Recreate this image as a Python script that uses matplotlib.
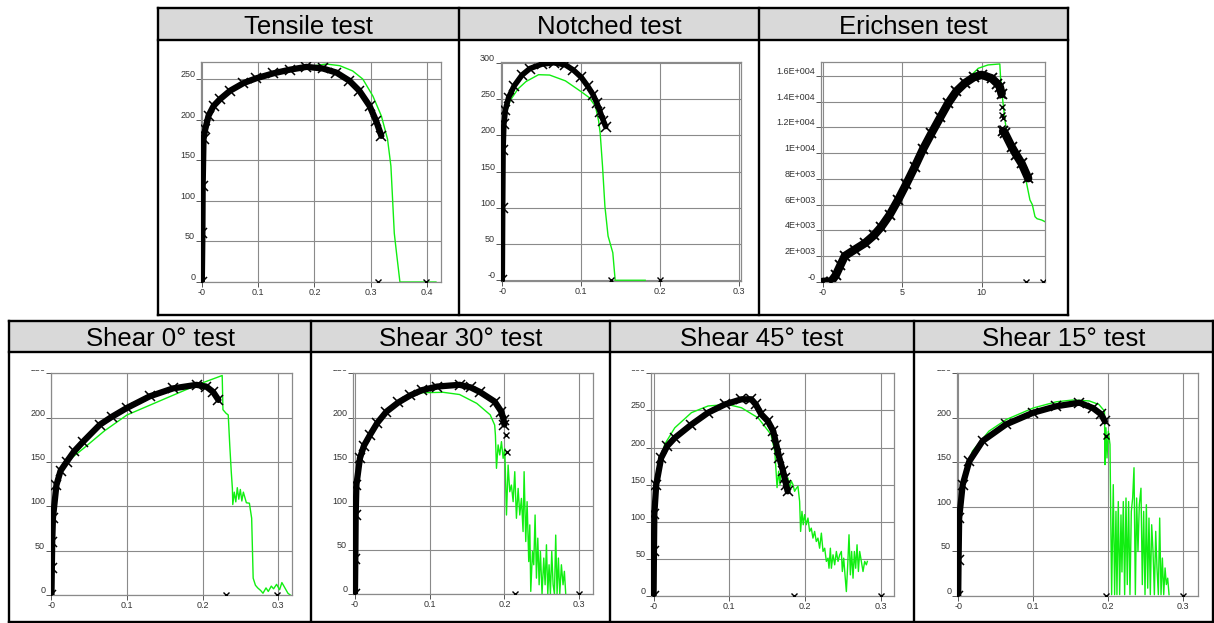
import matplotlib.pyplot as plt
from matplotlib.patches import Rectangle
from matplotlib.lines import Line2D
from matplotlib.transforms import Bbox, TransformedBbox

plt.rcParams['font.family'] = ['Liberation Sans', 'DejaVu Sans']

# ---- tensile ----
ten_x = [0, 0.001, 0.0015, 0.003, 0.006, 0.012, 0.021, 0.032, 0.05, 0.074, 0.097, 0.127,
         0.156, 0.186, 0.215, 0.239, 0.262, 0.28, 0.298, 0.31, 0.319]
ten_y = [0, 60, 118, 176, 188, 205, 217, 225, 235.5, 245, 251, 257,
         261.5, 265, 263, 258, 248, 235.5, 217, 198, 180]
ten_fail_x = [0.313, 0.398]
ten_fail_y = [0, 0]
ten_gx = [0, 0.001, 0.003, 0.012, 0.032, 0.074, 0.127, 0.186, 0.221, 0.245, 0.268, 0.286,
          0.304, 0.319, 0.33, 0.336, 0.339, 0.342, 0.346, 0.352, 0.416]
ten_gy = [0, 60, 176, 205, 225, 245, 257, 265, 268.5, 266.5, 260, 250,
          229, 204.6, 176, 142.7, 101.5, 60, 35.5, 0, 0]

# ---- notched ----
not_x = [0, 0.0005, 0.001, 0.002, 0.004, 0.008, 0.015, 0.025, 0.035, 0.05, 0.065, 0.08,
         0.09, 0.1, 0.108, 0.115, 0.12, 0.124, 0.128, 0.131]
not_y = [0, 100, 180, 215, 235, 252, 268, 283, 292, 298, 300, 297,
         290, 280, 268, 256, 244, 232, 220, 212]
not_fail_x = [0.138, 0.2]
not_fail_y = [0, 0]
not_gx = [0, 0.0005, 0.001, 0.004, 0.01, 0.02, 0.03, 0.046, 0.06, 0.08, 0.1, 0.11, 0.118,
          0.122, 0.124, 0.127, 0.13, 0.134, 0.14, 0.143, 0.181]
not_gy = [0, 100, 180, 228, 248, 264, 274, 283.5, 283, 275, 260, 252, 240,
          220, 203, 157, 102, 61, 38, 0, 0]

# ---- erichsen ----
eri_x = [0, 0.5, 0.8, 1.1, 1.37, 2.0, 2.63, 3.2, 3.68, 4.2, 4.73, 5.25, 5.79, 6.3, 6.84,
         7.4, 7.89, 8.4, 8.94, 9.5, 10.0, 10.63, 11.0, 11.15, 11.26]
eri_y = [0, 0, 500, 1300, 2000, 2500, 2990, 3600, 4280, 5200, 6360, 7600, 8950, 10300, 11550,
         12800, 13880, 14800, 15440, 15900, 16090, 15830, 15400, 15170, 14600]
eri_drop_x = [11.28, 11.3, 11.27, 11.32, 11.3]
eri_drop_y = [14530, 13620, 12970, 12710, 11930]
eri_tail_x = [11.35, 11.47, 11.89, 12.2, 12.52, 12.94]
eri_tail_y = [11700, 11550, 10510, 9850, 9210, 8050]
eri_fail_x = [12.83, 13.89]
eri_fail_y = [0, 0]
eri_gx = [-0.1, 0.5, 1.37, 2.63, 3.68, 4.73, 5.79, 6.84, 7.4, 7.89, 8.4, 8.94, 9.37, 9.79,
          10.4, 11.15, 11.2, 11.3, 11.47, 11.6, 11.89, 12.3, 12.73, 12.84, 13.05, 13.2,
          13.37, 13.5, 13.79, 14.0]
eri_gy = [0, 0, 2000, 2990, 4280, 6360, 8950, 11400, 12500, 13600, 14700, 15500, 16090, 16600,
          16860, 16940, 15800, 14500, 12580, 11600, 10770, 9700, 8170, 7650, 6360, 6000,
          5060, 4900, 4800, 4670]

# ---- shear 0 ----
s00_x = [0, 0.0005, 0.001, 0.002, 0.0066, 0.012, 0.02, 0.03, 0.042, 0.064, 0.08, 0.1,
         0.13, 0.161, 0.192, 0.205, 0.214, 0.221]
s00_y = [0, 30, 60, 87, 124, 140, 150, 162, 173, 192, 201, 211,
         224, 233, 237, 235, 229, 220]
s00_fail_x = [0.231, 0.298]
s00_fail_y = [0, 0]
s00_gx = [0, 0.0005, 0.001, 0.002, 0.0066, 0.02, 0.042, 0.07, 0.1, 0.152, 0.196, 0.226,
          0.227, 0.231, 0.234, 0.236, 0.238, 0.2395, 0.24, 0.242, 0.244, 0.246, 0.248, 0.25,
          0.252, 0.254, 0.256, 0.258, 0.262, 0.265, 0.267, 0.27, 0.273, 0.277, 0.28, 0.284,
          0.287, 0.291, 0.294, 0.298, 0.302, 0.305, 0.309, 0.313, 0.316]
s00_gy = [0, 10, 40, 87, 124, 150, 165, 185, 203, 222, 238, 247.5,
          209, 205, 203, 169, 139, 120, 102, 116, 105, 121, 108, 119,
          106, 116, 110, 104, 103.5, 86.6, 19, 11, 8, 5, 2, 8,
          4, 10, 7, 12, 6, 14, 8, 2, 0]

# ---- shear 30 ----
s30_x = [0, 0.0005, 0.001, 0.002, 0.0067, 0.012, 0.02, 0.03, 0.042, 0.058, 0.074, 0.09,
         0.11, 0.14, 0.155, 0.167, 0.187, 0.196, 0.199, 0.2]
s30_y = [0, 40, 90, 124, 154, 168, 180, 194, 206.5, 217, 225, 231,
         235, 237, 234, 229, 218, 206.5, 197, 192]
s30_fail_x = [0.202, 0.204, 0.214, 0.3]
s30_fail_y = [180, 161, 0, 0]
s30_gx = [0, 0.0005, 0.001, 0.002, 0.0067, 0.02, 0.042, 0.074, 0.09, 0.118, 0.14, 0.163,
          0.181, 0.187, 0.188, 0.1894, 0.1916, 0.1938, 0.1961, 0.1983, 0.2005, 0.2028,
          0.205, 0.2072, 0.2094, 0.2117, 0.2139, 0.2161, 0.2184, 0.2206, 0.2228, 0.225,
          0.2264, 0.2286, 0.2304, 0.2326, 0.234, 0.2353, 0.2376, 0.2393, 0.2411, 0.2429,
          0.2447, 0.2465, 0.2482, 0.2504, 0.2527, 0.2545, 0.2563, 0.2581, 0.2598, 0.2616,
          0.2634, 0.2652, 0.267, 0.2687, 0.2705, 0.2723, 0.2741, 0.2763, 0.2785, 0.2803,
          0.2821]
s30_gy = [0, 40, 90, 124, 154, 180, 206.5, 225, 228, 228.5, 226, 216,
          203, 191.5, 180, 142.5, 169, 157.6, 172.7, 153.8, 165, 89.7,
          146.2, 116, 123.6, 104.8, 138.7, 86, 119.8, 89.7, 108.5, 71,
          138.7, 59.7, 104.8, 37, 78.5, 3.3, 48.5, 33.4, 89.7, 18.3,
          63.5, 10.8, 48.5, 0.3, 41, 10.8, 56, 0.3, 33.4, 0.3,
          48.5, 10.8, 0.3, 67, 0.3, 41, 0.3, 33.4, 10.8, 26,
          0.3]

# ---- shear 45 ----
s45_x = [0, 0.0005, 0.001, 0.0035, 0.01, 0.018, 0.028, 0.05, 0.072, 0.094, 0.116, 0.129,
         0.135, 0.142, 0.151, 0.158, 0.162, 0.166, 0.171, 0.173, 0.175, 0.177]
s45_y = [0, 60, 110, 150, 186, 202, 213, 231, 247, 258, 265, 265,
         258, 245, 235.5, 222, 204, 186, 168, 159, 150, 141]
s45_fail_x = [0.186, 0.3]
s45_fail_y = [0, 0]
s45_gx = [0, 0.0005, 0.001, 0.0035, 0.0145, 0.028, 0.05, 0.072, 0.098, 0.116, 0.138, 0.155,
          0.16, 0.162, 0.163, 0.1651, 0.1669, 0.1686, 0.1708, 0.173, 0.1752, 0.1774, 0.1796,
          0.1818, 0.184, 0.1862, 0.1884, 0.1906, 0.1928, 0.1941, 0.1959, 0.1976, 0.1994,
          0.2016, 0.2038, 0.206, 0.2082, 0.2104, 0.2126, 0.2148, 0.217, 0.2192, 0.2215,
          0.2237, 0.2259, 0.2281, 0.2303, 0.2316, 0.2334, 0.2347, 0.2369, 0.2391, 0.2413,
          0.2435, 0.2457, 0.2479, 0.2492, 0.251, 0.2527, 0.2545, 0.2563, 0.258, 0.2598,
          0.2615, 0.2633, 0.2651, 0.2668, 0.2686, 0.2704, 0.2721, 0.2743, 0.2765, 0.2787,
          0.2809, 0.2822]
s45_gy = [0, 60, 110, 150, 204, 226.6, 247, 256, 258, 253.6, 240, 217.6,
          195, 163.5, 146, 168, 150, 177, 155, 168, 150, 159, 145,
          155, 150, 141, 145, 147.7, 127.5, 87, 114, 96, 109.6,
          96, 105, 87, 91.4, 78, 87, 73.4, 78, 64.4, 84.7,
          60, 64.4, 46.6, 51, 37.4, 64.4, 37.4, 55.5, 42, 60,
          46.6, 55.5, 60, 33, 51, 28.5, 6, 42, 82.5, 28.5,
          60, 24, 60, 37.4, 69, 33, 60, 46.6, 33, 46.6,
          42, 46.6]

# ---- shear 15 ----
s15_x = [0, 0.0005, 0.0013, 0.006, 0.0147, 0.0326, 0.0638, 0.1, 0.131, 0.162, 0.18, 0.191,
         0.196]
s15_y = [0, 40, 87.5, 125, 151, 174, 192.6, 205.7, 213, 217, 211, 204,
         196]
s15_fail_x = [0.198, 0.198, 0.3]
s15_fail_y = [179.4, 0, 0]
s15_gx = [0, 0.0005, 0.0013, 0.006, 0.019, 0.041, 0.064, 0.1, 0.131, 0.153, 0.175, 0.188,
          0.1955, 0.1961, 0.1974, 0.1988, 0.2006, 0.2028, 0.205, 0.2072, 0.209, 0.2108,
          0.2121, 0.2139, 0.2157, 0.2175, 0.2188, 0.2206, 0.2224, 0.2242, 0.2259, 0.2277,
          0.2295, 0.2313, 0.2331, 0.2349, 0.2367, 0.2384, 0.2402, 0.242, 0.2442, 0.246,
          0.2478, 0.2496, 0.2514, 0.2532, 0.2549, 0.2567, 0.2585, 0.2603, 0.2621, 0.2639,
          0.2656, 0.2674, 0.2692, 0.271, 0.2728, 0.2746, 0.2764, 0.2781, 0.2799, 0.2817]
s15_gy = [0, 40, 87.5, 130, 162.6, 185, 198, 211, 218, 220, 219, 215,
          207.5, 147.5, 188.8, 155, 185, 170, 1.5, 125, 1.5, 95,
          1.5, 106, 1.5, 91, 27, 106, 1.5, 110, 12.8, 106,
          1.5, 95, 110, 144, 1.5, 110, 50, 102.5, 121, 12.8,
          95, 1.5, 102.5, 8.8, 87.5, 1.5, 80, 50, 1.5, 72.6,
          31.5, 1.5, 87.5, 1.5, 42.6, 1.5, 31.5, 12.8, 20, 1.5]

# tick labels
tick_01 = [0, 0.1, 0.2, 0.3]
lab_01 = ['-0', '0.1', '0.2', '0.3']
y250 = [0, 50, 100, 150, 200, 250]
lab250 = ['0', '50', '100', '150', '200', '250']
y300 = [0, 50, 100, 150, 200, 250, 300]
eri_yt = [0, 2000, 4000, 6000, 8000, 10000, 12000, 14000, 16000]
eri_yl = ['-0', '2E+003', '4E+003', '6E+003', '8E+003', '1E+004', '1.2E+004', '1.4E+004', '1.6E+004']

W, H = 1214, 623
fig = plt.figure(figsize=(W / 100, H / 100), dpi=100)

GREEN = '#11ee11'
BORDER = 1.7


def box(x0, y0, x1, y1):
    # pixel box measured from the top-left corner -> figure fraction
    return [x0 / W, 1 - y1 / H, (x1 - x0) / W, (y1 - y0) / H]


def hline(x0, x1, y):
    fig.add_artist(Line2D([x0 / W, x1 / W], [1 - y / H, 1 - y / H], color='k', lw=BORDER,
                          solid_capstyle='projecting', transform=fig.transFigure, zorder=5))


def vline(x, y0, y1):
    fig.add_artist(Line2D([x / W, x / W], [1 - y0 / H, 1 - y1 / H], color='k', lw=BORDER,
                          solid_capstyle='projecting', transform=fig.transFigure, zorder=5))


def table(xs, y0, yh, y1, titles):
    for i, t in enumerate(titles):
        fig.add_artist(Rectangle((xs[i] / W, 1 - yh / H), (xs[i + 1] - xs[i]) / W, (yh - y0) / H,
                                 transform=fig.transFigure, facecolor='#d9d9d9',
                                 edgecolor='none', zorder=0))
        fig.text((xs[i] + xs[i + 1]) / 2 / W, 1 - (yh - 6.5) / H, t, ha='center',
                 va='baseline', fontsize=18.5)
    for y in (y0, yh, y1):
        hline(xs[0], xs[-1], y)
    for x in xs:
        vline(x, y0, y1)


def panel(rect, xlim, ylim, xt, xl, yt, yl, clip_top=None):
    ax = fig.add_axes(box(*rect))
    ax.set_xlim(xlim)
    ax.set_ylim(ylim)
    ax.set_xticks(xt, xl)
    ax.set_yticks(yt, yl)
    ax.grid(True, color='#8a8a8a', lw=0.8)
    ax.set_axisbelow(True)
    for s in ax.spines.values():
        s.set_color('#8a8a8a')
        s.set_linewidth(0.9)
    ax.tick_params(length=3.5, width=0.7, color='#555555', labelsize=6.5,
                   labelcolor='#333333', pad=0.5)
    for lab in ax.get_yticklabels():
        lab.set_va('bottom')
    if clip_top is not None:
        lab = ax.yaxis.get_major_ticks()[-1].label1
        lab.set_clip_on(True)
        lab.set_clip_box(TransformedBbox(Bbox.from_extents(0, 0, 1, 1 - clip_top / H),
                                         fig.transFigure))
    return ax


def curves(ax, bx, by, gx, gy, fx, fy, lw=4.5, ms=6.5):
    ax.plot(gx, gy, color=GREEN, lw=1.0, zorder=2)
    ax.plot(bx, by, color='k', lw=lw, solid_capstyle='round', solid_joinstyle='round', zorder=3)
    ax.plot(bx, by, 'x', color='k', ms=ms, mew=1.1, zorder=3)
    ax.plot(fx, fy, 'x', color='k', ms=5, mew=1.0, zorder=4)


table([158, 459, 759, 1068], 8, 40, 315, ['Tensile test', 'Notched test', 'Erichsen test'])
table([9, 311, 610, 914, 1213], 321, 352, 622,
      ['Shear 0° test', 'Shear 30° test', 'Shear 45° test', 'Shear 15° test'])

ax = panel((200.7, 62, 441, 282), (-0.002, 0.425), (0, 271),
           [0, 0.1, 0.2, 0.3, 0.4], ['-0', '0.1', '0.2', '0.3', '0.4'], y250, lab250)
curves(ax, ten_x, ten_y, ten_gx, ten_gy, ten_fail_x, ten_fail_y)

ax = panel((500.7, 62, 740.7, 281), (-0.002, 0.302), (-1, 301),
           tick_01, lab_01, y300, ['-0'] + [str(v) for v in y300[1:]])
curves(ax, not_x, not_y, not_gx, not_gy, not_fail_x, not_fail_y, lw=4)

ax = panel((821, 62, 1045, 282), (-0.13, 14.0), (-20, 17090),
           [0, 5, 10], ['-0', '5', '10'], eri_yt, eri_yl)
ax.plot(eri_gx, eri_gy, color=GREEN, lw=1.0, zorder=2)
for xs_, ys_ in ((eri_x, eri_y), (eri_tail_x, eri_tail_y)):
    ax.plot(xs_, ys_, color='k', lw=6, solid_capstyle='round', zorder=3)
    ax.plot(xs_, ys_, 'x', color='k', ms=7.5, mew=1.3, zorder=3)
ax.plot(eri_drop_x, eri_drop_y, 'x', color='k', ms=5, mew=1.0, zorder=4)
ax.plot(eri_fail_x, eri_fail_y, 'x', color='k', ms=5, mew=1.0, zorder=4)

ax = panel((50.7, 373.3, 291.7, 595), (-0.001, 0.318), (0, 250),
           tick_01, lab_01, y250, lab250, clip_top=370)
curves(ax, s00_x, s00_y, s00_gx, s00_gy, s00_fail_x, s00_fail_y)

ax = panel((352.7, 373.3, 593.3, 594.3), (-0.003, 0.319), (0, 250),
           tick_01, lab_01, y250, lab250, clip_top=370)
curves(ax, s30_x, s30_y, s30_gx, s30_gy, s30_fail_x, s30_fail_y)

ax = panel((651.3, 373.3, 893.7, 596), (-0.003, 0.317), (0, 300),
           tick_01, lab_01, y300, [str(v) for v in y300], clip_top=370)
curves(ax, s45_x, s45_y, s45_gx, s45_gy, s45_fail_x, s45_fail_y)

ax = panel((956.7, 373.3, 1197.7, 596), (-0.002, 0.32), (0, 250),
           tick_01, lab_01, y250, lab250, clip_top=370)
curves(ax, s15_x, s15_y, s15_gx, s15_gy, s15_fail_x, s15_fail_y)

fig.savefig('out.png', dpi=100)
